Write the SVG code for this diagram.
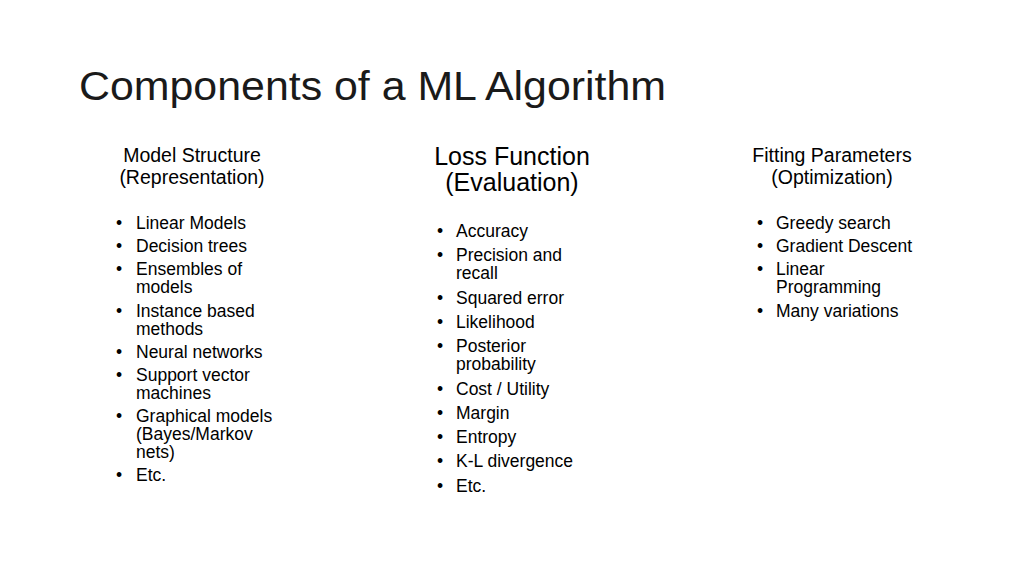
<svg xmlns="http://www.w3.org/2000/svg" width="1024" height="576" viewBox="0 0 1024 576">
<style>
text{font-family:"Liberation Sans",Arial,sans-serif;fill:#000}
.t{font-size:40px;fill:#1a1a1a}
.h{font-size:19.5px;text-anchor:middle}
.h2{font-size:25px;text-anchor:middle}
.b{font-size:17.5px}
</style>
<rect width="1024" height="576" fill="#fff"/>
<text class="t" x="79" y="100" textLength="587" lengthAdjust="spacingAndGlyphs">Components of a ML Algorithm</text>
<g id="col1">
<text class="h" x="192" y="162">Model Structure</text>
<text class="h" x="192" y="184">(Representation)</text>
<text class="b" x="116" y="229">•</text><text class="b" x="136" y="229">Linear Models</text>
<text class="b" x="116" y="252">•</text><text class="b" x="136" y="252">Decision trees</text>
<text class="b" x="116" y="275">•</text><text class="b" x="136" y="275">Ensembles of</text>
<text class="b" x="136" y="293">models</text>
<text class="b" x="116" y="317">•</text><text class="b" x="136" y="317">Instance based</text>
<text class="b" x="136" y="335">methods</text>
<text class="b" x="116" y="358">•</text><text class="b" x="136" y="358">Neural networks</text>
<text class="b" x="116" y="381">•</text><text class="b" x="136" y="381">Support vector</text>
<text class="b" x="136" y="399">machines</text>
<text class="b" x="116" y="422">•</text><text class="b" x="136" y="422">Graphical models</text>
<text class="b" x="136" y="440">(Bayes/Markov</text>
<text class="b" x="136" y="458">nets)</text>
<text class="b" x="116" y="481">•</text><text class="b" x="136" y="481">Etc.</text>
</g>
<g id="col2">
<text class="h2" x="512" y="165">Loss Function</text>
<text class="h2" x="512" y="191">(Evaluation)</text>
<text class="b" x="437" y="237">•</text><text class="b" x="456" y="237">Accuracy</text>
<text class="b" x="437" y="261">•</text><text class="b" x="456" y="261">Precision and</text>
<text class="b" x="456" y="279">recall</text>
<text class="b" x="437" y="304">•</text><text class="b" x="456" y="304">Squared error</text>
<text class="b" x="437" y="328">•</text><text class="b" x="456" y="328">Likelihood</text>
<text class="b" x="437" y="352">•</text><text class="b" x="456" y="352">Posterior</text>
<text class="b" x="456" y="370">probability</text>
<text class="b" x="437" y="395">•</text><text class="b" x="456" y="395">Cost / Utility</text>
<text class="b" x="437" y="419">•</text><text class="b" x="456" y="419">Margin</text>
<text class="b" x="437" y="443">•</text><text class="b" x="456" y="443">Entropy</text>
<text class="b" x="437" y="467">•</text><text class="b" x="456" y="467">K-L divergence</text>
<text class="b" x="437" y="492">•</text><text class="b" x="456" y="492">Etc.</text>
</g>
<g id="col3">
<text class="h" x="832" y="162">Fitting Parameters</text>
<text class="h" x="832" y="184">(Optimization)</text>
<text class="b" x="757" y="229">•</text><text class="b" x="776" y="229">Greedy search</text>
<text class="b" x="757" y="252">•</text><text class="b" x="776" y="252">Gradient Descent</text>
<text class="b" x="757" y="275">•</text><text class="b" x="776" y="275">Linear</text>
<text class="b" x="776" y="293">Programming</text>
<text class="b" x="757" y="317">•</text><text class="b" x="776" y="317">Many variations</text>
</g>
</svg>
